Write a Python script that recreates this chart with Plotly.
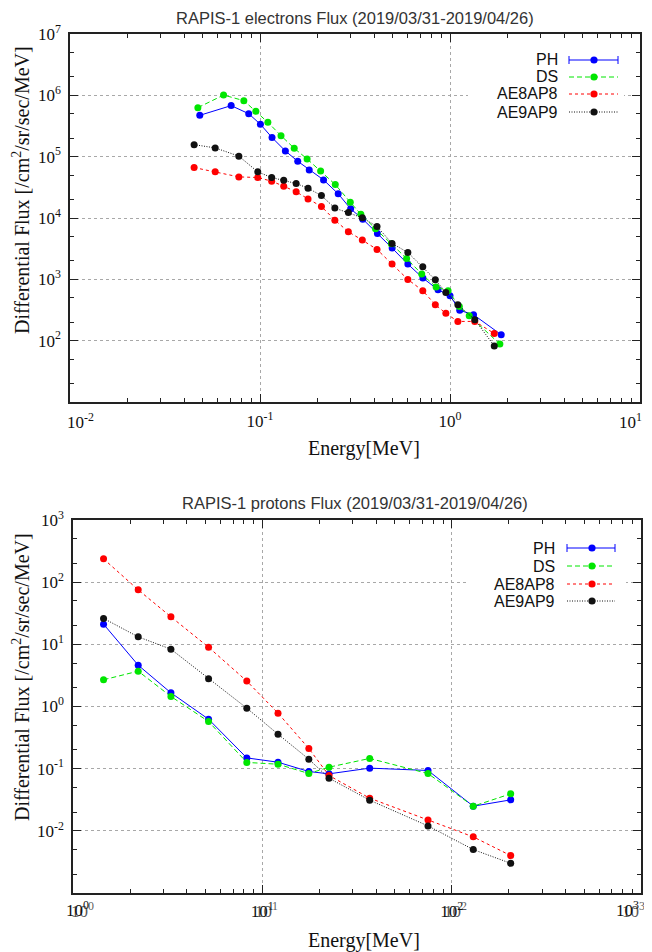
import math
import plotly.graph_objects as go

# browser window is 652x952; the page body adds an 8px margin, so the figure is 8px smaller
WIN_W, WIN_H = 652, 952
OFF = 8
W, H = WIN_W - OFF, WIN_H - OFF

# ---------------- electrons (top panel) ----------------
e_model_energy = [0.045, 0.0581, 0.0774, 0.0973, 0.1152, 0.1333, 0.155, 0.179, 0.2105, 0.2477, 0.2918,
                  0.3455, 0.413, 0.4955, 0.600, 0.719, 0.837, 0.951, 1.10, 1.35, 1.71]
e_ph_energy = [0.0482, 0.0705, 0.0872, 0.1005, 0.1157, 0.136, 0.158, 0.1816, 0.216, 0.258, 0.300,
               0.3475, 0.415, 0.496, 0.600, 0.720, 0.865, 1.00, 1.125, 1.33, 1.86]
e_ph_flux = [4.72e5, 6.8e5, 5.02e5, 3.37e5, 2.05e5, 1.24e5, 8.42e4, 6.08e4, 4.18e4, 2.48e4, 1.41e4,
             9.57e3, 5.6e3, 3.23e3, 1.77e3, 1.05e3, 676, 540, 312, 265, 125]
e_ds_energy = [0.0471, 0.0643, 0.0822, 0.0951, 0.110, 0.129, 0.1514, 0.177, 0.2085, 0.249, 0.2987,
               0.3395, 0.4055, 0.491, 0.591, 0.710, 0.845, 0.977, 1.12, 1.262, 1.83]
e_ds_flux = [6.3e5, 1.01e6, 8.19e5, 5.48e5, 3.63e5, 2.20e5, 1.37e5, 9.19e4, 5.86e4, 3.51e4, 1.81e4,
             1.15e4, 6.66e3, 3.80e3, 2.19e3, 1.22e3, 748, 652, 362, 255, 88]
e_ae8_flux = [6.64e4, 5.65e4, 4.68e4, 4.57e4, 3.98e4, 3.30e4, 2.67e4, 2.05e4, 1.54e4, 9.22e3, 5.96e3,
              4.36e3, 3.07e3, 1.77e3, 996, 652, 386, 279, 206, 206, 131]
e_ae9_flux = [1.57e5, 1.39e5, 1.02e5, 5.65e4, 4.57e4, 4.13e4, 3.65e4, 3.06e4, 2.32e4, 1.45e4, 1.23e4,
              1.01e4, 7.28e3, 3.85e3, 2.74e3, 1.60e3, 985, 612, 386, 220, 82]

# ---------------- protons (bottom panel) ----------------
p_energy = [1.45, 2.21, 3.29, 5.2, 8.28, 12.1, 17.6, 22.5, 36.9, 75, 130, 205]
p_ph_flux = [21.1, 4.62, 1.66, 0.625, 0.149, 0.127, 0.090, 0.0826, 0.102, 0.0935, 0.0249, 0.0315]
p_ds_flux = [2.69, 3.70, 1.45, 0.574, 0.126, 0.118, 0.0835, 0.1057, 0.146, 0.0835, 0.0249, 0.0394]
p_ae8_flux = [237, 75.3, 27.7, 8.99, 2.56, 0.782, 0.211, 0.0776, 0.0335, 0.0150, 0.0080, 0.0040]
p_ae9_flux = [26.1, 13.2, 8.36, 2.79, 0.94, 0.359, 0.142, 0.0703, 0.0311, 0.0120, 0.0050, 0.0030]

series_names = ["PH", "DS", "AE8AP8", "AE9AP9"]

# tick labels
e_x_ticks = [0.01, 0.1, 1, 10]
e_x_labels = ["10<sup>-2</sup>", "10<sup>-1</sup>", "10<sup>0</sup>", "10<sup>1</sup>"]
e_y_ticks = [1e1, 1e2, 1e3, 1e4, 1e5, 1e6, 1e7]
e_y_labels = ["", "10<sup>2</sup>", "10<sup>3</sup>", "10<sup>4</sup>", "10<sup>5</sup>", "10<sup>6</sup>", "10<sup>7</sup>"]
p_x_ticks = [1, 10, 100, 1000]
p_x_labels = ["10<sup>0</sup>", "10<sup>1</sup>", "10<sup>2</sup>", "10<sup>3</sup>"]
p_y_ticks = [1e-3, 1e-2, 1e-1, 1, 10, 100, 1000]
p_y_labels = ["", "10<sup>-2</sup>", "10<sup>-1</sup>", "10<sup>0</sup>", "10<sup>1</sup>", "10<sup>2</sup>", "10<sup>3</sup>"]

COL = {"PH": "#0000ff", "DS": "#00e600", "AE8AP8": "#ff0000", "AE9AP9": "#111111"}
DASH = {"PH": "solid", "DS": "5px,3px", "AE8AP8": "3px,3px", "AE9AP9": "1px,1.5px"}

# panel frames in window pixels (left, right, top, bottom)
TOP_BOX = (70, 640, 34, 402)
BOT_BOX = (73, 641, 520, 893)


def px(x):
    return (x - OFF) / W


def py(y):
    return 1 - (y - OFF) / H


fig = go.Figure()


def add_series(x, y, name, xa, ya):
    fig.add_trace(go.Scatter(
        x=x, y=y, mode="lines+markers", name=name, xaxis=xa, yaxis=ya, showlegend=False,
        line=dict(color=COL[name], width=1, dash=DASH[name]),
        marker=dict(color=COL[name], size=7, line=dict(width=0))))


add_series(e_ph_energy, e_ph_flux, "PH", "x", "y")
add_series(e_ds_energy, e_ds_flux, "DS", "x", "y")
add_series(e_model_energy, e_ae8_flux, "AE8AP8", "x", "y")
add_series(e_model_energy, e_ae9_flux, "AE9AP9", "x", "y")

add_series(p_energy, p_ph_flux, "PH", "x2", "y2")
add_series(p_energy, p_ds_flux, "DS", "x2", "y2")
add_series(p_energy, p_ae8_flux, "AE8AP8", "x2", "y2")
add_series(p_energy, p_ae9_flux, "AE9AP9", "x2", "y2")

# edge x labels are drawn as annotations (nudged inside the frame, as in the source)
e_x_axis_labels = [""] + e_x_labels[1:-1] + [""]
p_x_axis_labels = [""] + p_x_labels[1:-1] + [""]


def log_axis(domain, rng, major, labels, minor_mult, anchor, standoff):
    lo, hi = rng
    minor_vals = [m * 10 ** e for e in range(lo, hi) for m in minor_mult]
    return dict(
        type="log", domain=domain, range=[lo, hi], anchor=anchor, automargin=False,
        tickmode="array", tickvals=major, ticktext=labels,
        ticks="inside", ticklen=8, tickwidth=1, tickcolor="#222",
        minor=dict(tickmode="array", tickvals=minor_vals, ticks="inside", ticklen=4,
                   tickwidth=1, tickcolor="#222", showgrid=False),
        showline=True, linecolor="#222", linewidth=1.5, mirror="allticks",
        showgrid=True, gridcolor="#a8a8a8", griddash="dot", gridwidth=1,
        tickfont=dict(family="Liberation Serif", size=17, color="#111"),
        ticklabelstandoff=standoff, zeroline=False)


fig.update_layout(
    template="none",
    width=W, height=H, autosize=False,
    margin=dict(l=0, r=0, t=0, b=0, pad=0),
    paper_bgcolor="white", plot_bgcolor="white",
    xaxis=log_axis([px(TOP_BOX[0]), px(TOP_BOX[1])], (-2, 1), e_x_ticks, e_x_axis_labels, range(2, 10), "y", 3),
    yaxis=log_axis([py(TOP_BOX[3]), py(TOP_BOX[2])], (1, 7), e_y_ticks, e_y_labels, [2, 5], "x", 4),
    xaxis2=log_axis([px(BOT_BOX[0]), px(BOT_BOX[1])], (0, 3), p_x_ticks, p_x_axis_labels, range(2, 10), "y2", 2),
    yaxis2=log_axis([py(BOT_BOX[3]), py(BOT_BOX[2])], (-3, 3), p_y_ticks, p_y_labels, [2, 5], "x2", 4),
)

shapes = []
annotations = []


def note(text, x, y, font, **kw):
    d = dict(text=text, x=px(x), y=py(y), xref="paper", yref="paper", showarrow=False,
             xanchor="center", yanchor="middle", font=font)
    d.update(kw)
    annotations.append(d)


tick_font = dict(family="Liberation Serif", size=17, color="#111")

# titles
title_font = dict(family="Liberation Sans", size=16.5, color="#333")
note("RAPIS-1 electrons Flux (2019/03/31-2019/04/26)", 355, 18, title_font)
note("RAPIS-1 protons Flux (2019/03/31-2019/04/26)", 355, 503, title_font)

axis_title_font = dict(family="Liberation Serif", size=20, color="#111")
ytitle = "Differential Flux [/cm<sup>2</sup>/sr/sec/MeV]"
note(ytitle, 21, 190, axis_title_font, textangle=-90)
note(ytitle, 21, 677, axis_title_font, textangle=-90)
note("Energy[MeV]", 364, 449, axis_title_font)
note("Energy[MeV]", 364, 940, axis_title_font)

# edge tick labels of the electron panel
note(e_x_labels[0], 80, 421, tick_font)
note(e_x_labels[-1], 630, 421, tick_font)

# proton panel: edge labels plus the doubled (ghost) labels seen in the source image
note(p_x_labels[0], 77, 909, tick_font)
note(p_x_labels[-1], 627, 909, tick_font)
for v, t in zip(p_x_ticks, p_x_labels):
    frac = math.log10(v) / 3.0
    xpix = BOT_BOX[0] + frac * (BOT_BOX[1] - BOT_BOX[0])
    if v == p_x_ticks[0]:
        xpix = 82
    elif v == p_x_ticks[-1]:
        xpix = 633
    else:
        xpix += 4
    note(t, xpix, 910, tick_font, opacity=0.7)


def legend(box, text_right, lx0, lx1, mx, rows):
    shapes.append(dict(type="rect", xref="paper", yref="paper", x0=px(box[0]), x1=px(box[1]),
                       y0=py(box[3]), y1=py(box[2]), fillcolor="white", line=dict(width=0), layer="above"))
    r = 3.6
    for name, yy in zip(series_names, rows):
        note(name, text_right, yy, dict(family="Liberation Sans", size=16, color="#111"), xanchor="right")
        shapes.append(dict(type="line", xref="paper", yref="paper", x0=px(lx0), x1=px(lx1),
                           y0=py(yy), y1=py(yy), layer="above",
                           line=dict(color=COL[name], width=1, dash=DASH[name])))
        if name == "PH":
            for cx in (lx0, lx1):
                shapes.append(dict(type="line", xref="paper", yref="paper", x0=px(cx), x1=px(cx),
                                   y0=py(yy - 4), y1=py(yy + 4), layer="above",
                                   line=dict(color=COL[name], width=1)))
        shapes.append(dict(type="circle", xref="paper", yref="paper", x0=px(mx - r), x1=px(mx + r),
                           y0=py(yy + r), y1=py(yy - r), fillcolor=COL[name],
                           line=dict(width=0), layer="above"))


legend((468, 624, 46, 121), 560, 569, 618, 594, [60, 77, 94, 112])
legend((468, 626, 536, 614), 557, 567, 615, 592, [548, 566, 584, 601])

fig.update_layout(shapes=shapes, annotations=annotations)

fig.write_html("out.html")
